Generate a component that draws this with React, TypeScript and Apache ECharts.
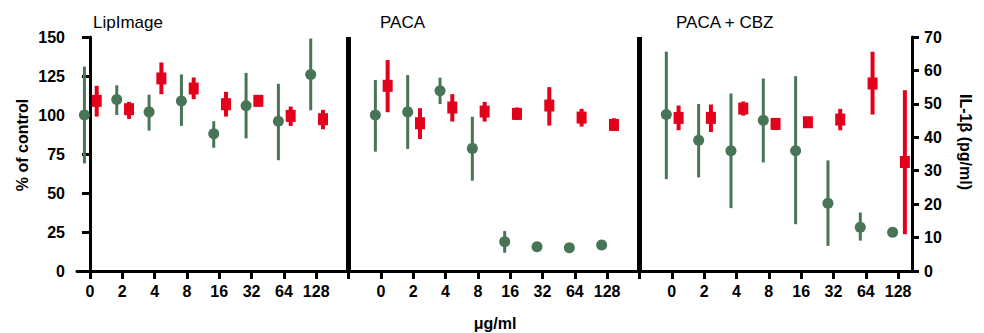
import React, { useEffect, useRef } from "react";
import * as echarts from "echarts";

const categories = ["0", "2", "4", "8", "16", "32", "64", "128"];
const panelTitles = ["LipImage", "PACA", "PACA + CBZ"];

// % of control (left axis, green)
const lipPct = [100, 110, 102, 109, 88, 106, 96, 126];
const lipPctLow = [69, 100, 90, 93, 79, 85, 71, 103];
const lipPctHigh = [131, 119, 113, 126, 96, 127, 120, 149];
const pacaPct = [100, 102, 115.6, 78.6, 18.8, 15.6, 14.9, 16.7];
const pacaPctLow = [76.5, 78.2, 107, 57.9, 11.7, null, null, null];
const pacaPctHigh = [122.4, 125.6, 123.9, 98.9, 25.6, null, null, null];
const cbzPct = [100.3, 83.8, 77.1, 96.6, 77.1, 43.5, 28.1, 24.9];
const cbzPctLow = [58.9, 60, 40.3, 69.6, 30, 16.1, 19.5, null];
const cbzPctHigh = [140.6, 107.1, 113.8, 123.4, 124.9, 70.9, 37.5, null];

// IL-1β pg/ml (right axis, red)
const lipIl = [50.9, 48.4, 57.6, 54.6, 49.9, 50.9, 46.4, 45.4];
const lipIlLow = [46.2, 45.5, 52.9, 51.4, 46.2, 49.2, 43.4, 42.4];
const lipIlHigh = [55.4, 50.6, 62.4, 57.9, 53.6, 52.5, 49.2, 48.2];
const pacaIl = [55.4, 44.2, 48.9, 47.7, 47.0, 49.5, 45.9, 43.7];
const pacaIlLow = [47.5, 39.5, 44.7, 44.7, 45.2, 43.5, 43.2, 41.9];
const pacaIlHigh = [63.1, 48.7, 52.9, 50.6, 48.9, 55.0, 48.5, 45.7];
const cbzIl = [45.8, 45.8, 48.6, 44.0, 44.5, 45.3, 56.1, 32.6];
const cbzIlLow = [42.1, 41.6, 46.5, 42.3, 43.1, 42.1, 46.8, 11.0];
const cbzIlHigh = [49.5, 49.8, 50.7, 45.6, 45.8, 48.5, 65.6, 54.1];

const pctPanels = [
  [lipPct, lipPctLow, lipPctHigh],
  [pacaPct, pacaPctLow, pacaPctHigh],
  [cbzPct, cbzPctLow, cbzPctHigh],
];
const ilPanels = [
  [lipIl, lipIlLow, lipIlHigh],
  [pacaIl, pacaIlLow, pacaIlHigh],
  [cbzIl, cbzIlLow, cbzIlHigh],
];

const GREEN = "#477556";
const RED = "#e3001b";
const FONT = "'Liberation Sans', Arial, sans-serif";
const SLOT = categories.length + 1;
const GREEN_OFF = -0.17;
const RED_OFF = 0.21;

export default function App() {
  const ref = useRef<HTMLDivElement>(null);
  useEffect(() => {
    if (!ref.current) return;
    const chart = echarts.init(ref.current, null, { renderer: "svg" });

    const tickIdx: number[] = [];
    const labelMap: Record<number, string> = {};
    for (let p = 0; p < panelTitles.length; p++) {
      categories.forEach((c, i) => {
        labelMap[p * SLOT + i] = c;
      });
    }
    const total = panelTitles.length * SLOT - 1;
    for (let i = 0; i < total; i++) tickIdx.push(i);
    const labelIdx = Object.keys(labelMap).map(Number);
    const dividers = [];
    for (let p = 1; p < panelTitles.length; p++) dividers.push(p * SLOT - 1);

    const pts = (panels: any[], off: number) => {
      const out: any[] = [];
      panels.forEach((arr, p) => {
        arr[0].forEach((v: number, i: number) => out.push([p * SLOT + i + off, v]));
      });
      return out;
    };
    const bars = (panels: any[], off: number) => {
      const out: any[] = [];
      panels.forEach((arr, p) => {
        arr[0].forEach((_v: number, i: number) => {
          if (arr[1][i] != null && arr[2][i] != null)
            out.push([p * SLOT + i + off, arr[1][i], arr[2][i]]);
        });
      });
      return out;
    };
    const errRender = (color: string, w: number) => (params: any, api: any) => {
      const x = api.value(0);
      const a = api.coord([x, api.value(1)]);
      const b = api.coord([x, api.value(2)]);
      return {
        type: "line",
        shape: { x1: a[0], y1: a[1], x2: b[0], y2: b[1] },
        style: { stroke: color, lineWidth: w, lineCap: "butt" },
      };
    };

    const axisLabelStyle = {
      color: "#000",
      fontFamily: FONT,
      fontWeight: "bold",
      fontSize: 16,
    };

    const option: any = {
      animation: false,
      grid: { left: 77, right: 72, top: 37, bottom: 62, containLabel: false },
      xAxis: {
        type: "value",
        min: -0.4,
        max: 25.43,
        splitLine: { show: false },
        axisLine: { show: true, lineStyle: { color: "#000", width: 3 } },
        axisTick: {
          show: true,
          customValues: tickIdx,
          length: 8,
          lineStyle: { color: "#000", width: 3 },
        },
        axisLabel: {
          ...axisLabelStyle,
          customValues: labelIdx,
          margin: 12,
          formatter: (v: number) => labelMap[Math.round(v)] ?? "",
        },
      },
      yAxis: [
        {
          type: "value",
          min: 0,
          max: 150,
          interval: 25,
          position: "left",
          splitLine: { show: false },
          axisLine: { show: true, lineStyle: { color: "#000", width: 3 } },
          axisTick: { show: true, length: 8, lineStyle: { color: "#000", width: 3 } },
          axisLabel: { ...axisLabelStyle, margin: 12 },
        },
        {
          type: "value",
          min: 0,
          max: 70,
          interval: 10,
          position: "right",
          splitLine: { show: false },
          axisLine: { show: true, lineStyle: { color: "#000", width: 3 } },
          axisTick: { show: true, length: 7, lineStyle: { color: "#000", width: 3 } },
          axisLabel: { ...axisLabelStyle, margin: 12 },
        },
      ],
      graphic: [
        ...panelTitles.map((t, p) => ({
          type: "text",
          x: [93, 380, 676][p],
          y: 22,
          style: {
            text: t,
            fontFamily: FONT,
            fontSize: 17,
            fill: "#000",
            textVerticalAlign: "middle",
          },
        })),
        {
          type: "text",
          x: 22,
          y: 145,
          rotation: Math.PI / 2,
          style: {
            text: "% of control",
            fontFamily: FONT,
            fontSize: 16,
            fontWeight: "bold",
            fill: "#000",
            textAlign: "center",
            textVerticalAlign: "middle",
          },
        },
        {
          type: "text",
          x: 965,
          y: 142,
          rotation: -Math.PI / 2,
          style: {
            text: "IL-1β (pg/ml)",
            fontFamily: FONT,
            fontSize: 16,
            fontWeight: "bold",
            fill: "#000",
            textAlign: "center",
            textVerticalAlign: "middle",
          },
        },
        {
          type: "text",
          x: 495,
          y: 323,
          style: {
            text: "μg/ml",
            fontFamily: FONT,
            fontSize: 16,
            fontWeight: "bold",
            fill: "#000",
            textAlign: "center",
            textVerticalAlign: "middle",
          },
        },
      ],
      series: [
        {
          type: "custom",
          name: "pctErr",
          xAxisIndex: 0,
          yAxisIndex: 0,
          renderItem: errRender(GREEN, 3),
          data: bars(pctPanels, GREEN_OFF),
          encode: { x: 0, y: [1, 2] },
          z: 2,
          markLine: {
            silent: true,
            symbol: "none",
            label: { show: false },
            lineStyle: { color: "#000", width: 5, type: "solid", opacity: 1 },
            data: dividers.map((d) => ({ xAxis: d })),
          },
        },
        {
          type: "scatter",
          name: "% of control",
          xAxisIndex: 0,
          yAxisIndex: 0,
          symbol: "circle",
          symbolSize: 11,
          itemStyle: { color: GREEN, opacity: 1 },
          data: pts(pctPanels, GREEN_OFF),
          z: 3,
        },
        {
          type: "custom",
          name: "ilErr",
          xAxisIndex: 0,
          yAxisIndex: 1,
          renderItem: errRender(RED, 4),
          data: bars(ilPanels, RED_OFF),
          encode: { x: 0, y: [1, 2] },
          z: 4,
        },
        {
          type: "scatter",
          name: "IL-1β",
          xAxisIndex: 0,
          yAxisIndex: 1,
          symbol: "rect",
          symbolSize: [10, 12],
          itemStyle: { color: RED, opacity: 1 },
          data: pts(ilPanels, RED_OFF),
          z: 5,
        },
      ],
    };
    chart.setOption(option);
    return () => chart.dispose();
  }, []);
  return (
    <div
      ref={ref}
      style={{ position: "fixed", left: 0, top: 0, width: 984, height: 333, background: "#fff" }}
    />
  );
}
